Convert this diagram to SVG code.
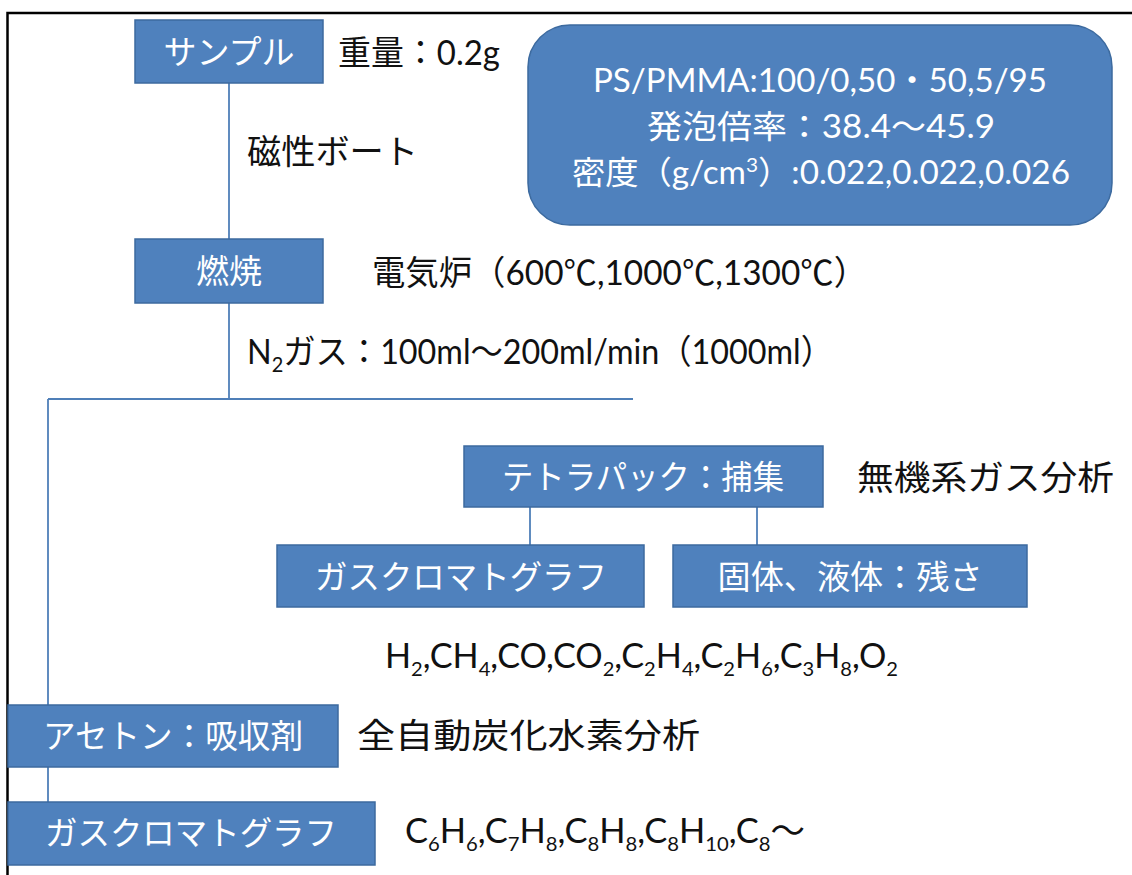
<svg xmlns="http://www.w3.org/2000/svg" width="1132" height="875" viewBox="0 0 1132 875">
<style>
.box{fill:#4F81BD;stroke:#3C6A9F;stroke-width:1.5}
.wt{fill:#ffffff;font-family:"Noto Sans CJK JP",sans-serif;font-size:33px;text-anchor:middle}
.bt{fill:#111111;font-family:"Lato","Noto Sans CJK JP",sans-serif;font-size:34px}
.ct{fill:#ffffff;font-family:"Lato","Noto Sans CJK JP",sans-serif;font-size:32px;text-anchor:middle}
.con{stroke:#4F7FB8;stroke-width:1.8;fill:none}
.frame{stroke:#000;stroke-width:2.5;fill:none}
</style>
<rect x="0" y="0" width="1132" height="875" fill="#ffffff"/>
<g id="frame">
<path class="frame" d="M7.5 875 V13 H1132"/>
</g>
<g id="connectors">
<path class="con" d="M229 83 V239"/>
<path class="con" d="M229 303 V399"/>
<path class="con" d="M48 399 H633"/>
<path class="con" d="M48 399 V705"/>
<path class="con" d="M48 767 V802"/>
<path class="con" d="M530 507 V545"/>
<path class="con" d="M757 507 V545"/>
</g>
<g id="sample">
<rect class="box" x="135" y="20" width="188" height="63"/>
<text class="wt" x="229" y="64">サンプル</text>
</g>
<text class="bt" x="338" y="65" textLength="162" lengthAdjust="spacingAndGlyphs">重量：0.2g</text>
<text class="bt" x="247" y="164" textLength="171" lengthAdjust="spacingAndGlyphs">磁性ボート</text>
<g id="info">
<rect class="box" x="528" y="25" width="584" height="200" rx="42" ry="42"/>
<text class="ct" x="820" y="92" textLength="454" lengthAdjust="spacingAndGlyphs">PS/PMMA:100/0,50・50,5/95</text>
<text class="ct" x="821" y="138" textLength="348" lengthAdjust="spacingAndGlyphs">発泡倍率：38.4～45.9</text>
<text class="ct" x="821" y="184" textLength="498" lengthAdjust="spacingAndGlyphs">密度（g/cm<tspan dy="-12" font-size="20">3</tspan><tspan dy="12">）:0.022,0.022,0.026</tspan></text>
</g>
<g id="combustion">
<rect class="box" x="135" y="239" width="188" height="64"/>
<text class="wt" x="229" y="283">燃焼</text>
</g>
<text class="bt" x="372" y="285" textLength="495" lengthAdjust="spacingAndGlyphs">電気炉（600℃,1000℃,1300℃）</text>
<text class="bt" x="247" y="364" textLength="586" lengthAdjust="spacingAndGlyphs">N<tspan dy="8" font-size="21">2</tspan><tspan dy="-8">ガス：100ml～200ml/min（1000ml）</tspan></text>
<g id="tetrapack">
<rect class="box" x="464" y="446" width="359" height="61"/>
<text class="wt" x="643" y="489" textLength="282" lengthAdjust="spacingAndGlyphs">テトラパック：捕集</text>
</g>
<text class="bt" x="857" y="490" font-size="35" textLength="257" lengthAdjust="spacingAndGlyphs">無機系ガス分析</text>
<g id="gc1">
<rect class="box" x="277" y="545" width="367" height="62"/>
<text class="wt" x="461" y="589" textLength="292" lengthAdjust="spacingAndGlyphs">ガスクロマトグラフ</text>
</g>
<g id="residue">
<rect class="box" x="673" y="545" width="354" height="62"/>
<text class="wt" x="850" y="589" textLength="265" lengthAdjust="spacingAndGlyphs">固体、液体：残さ</text>
</g>
<text class="bt" x="385" y="668" font-size="32" textLength="513" lengthAdjust="spacingAndGlyphs">H<tspan dy="8" font-size="20">2</tspan><tspan dy="-8">,CH</tspan><tspan dy="8" font-size="20">4</tspan><tspan dy="-8">,CO,CO</tspan><tspan dy="8" font-size="20">2</tspan><tspan dy="-8">,C</tspan><tspan dy="8" font-size="20">2</tspan><tspan dy="-8">H</tspan><tspan dy="8" font-size="20">4</tspan><tspan dy="-8">,C</tspan><tspan dy="8" font-size="20">2</tspan><tspan dy="-8">H</tspan><tspan dy="8" font-size="20">6</tspan><tspan dy="-8">,C</tspan><tspan dy="8" font-size="20">3</tspan><tspan dy="-8">H</tspan><tspan dy="8" font-size="20">8</tspan><tspan dy="-8">,O</tspan><tspan dy="8" font-size="20">2</tspan></text>
<g id="acetone">
<rect class="box" x="8" y="705" width="330" height="62"/>
<text class="wt" x="173" y="748" textLength="260" lengthAdjust="spacingAndGlyphs">アセトン：吸収剤</text>
</g>
<text class="bt" x="357" y="748" font-size="36" textLength="343" lengthAdjust="spacingAndGlyphs">全自動炭化水素分析</text>
<g id="gc2">
<rect class="box" x="8" y="802" width="367" height="63"/>
<text class="wt" x="191" y="845" textLength="292" lengthAdjust="spacingAndGlyphs">ガスクロマトグラフ</text>
</g>
<text class="bt" x="405" y="843" font-size="32" textLength="400" lengthAdjust="spacingAndGlyphs">C<tspan dy="8" font-size="20">6</tspan><tspan dy="-8">H</tspan><tspan dy="8" font-size="20">6</tspan><tspan dy="-8">,C</tspan><tspan dy="8" font-size="20">7</tspan><tspan dy="-8">H</tspan><tspan dy="8" font-size="20">8</tspan><tspan dy="-8">,C</tspan><tspan dy="8" font-size="20">8</tspan><tspan dy="-8">H</tspan><tspan dy="8" font-size="20">8</tspan><tspan dy="-8">,C</tspan><tspan dy="8" font-size="20">8</tspan><tspan dy="-8">H</tspan><tspan dy="8" font-size="20">10</tspan><tspan dy="-8">,C</tspan><tspan dy="8" font-size="20">8</tspan><tspan dy="-8">～</tspan></text>
</svg>
